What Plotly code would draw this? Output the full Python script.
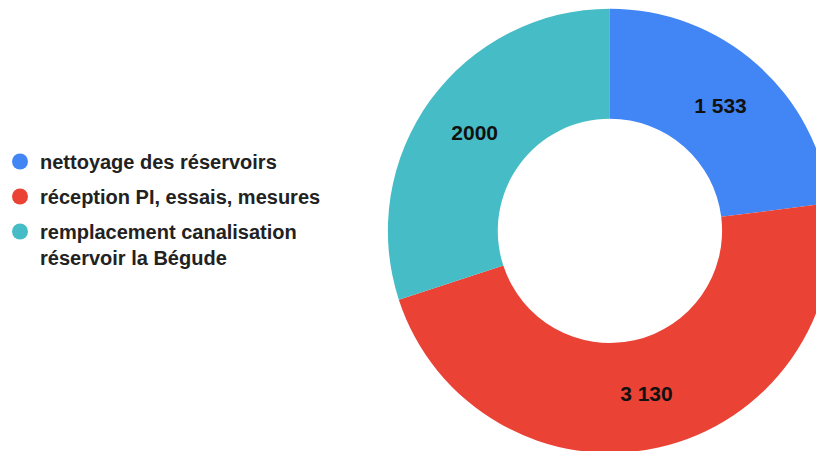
import plotly.graph_objects as go

categories = ["nettoyage des réservoirs",
              "réception PI, essais, mesures",
              "remplacement canalisation<br>réservoir la Bégude"]
values = [1533, 3130, 2000]
value_labels = ["1 533", "3 130", "2000"]
colors = ["#4285F4", "#EA4335", "#46BDC6"]

fig = go.Figure()
fig.add_trace(go.Pie(
    labels=categories, values=values, text=value_labels,
    textinfo="text", texttemplate="<b>%{text}</b>",
    textposition="inside", insidetextorientation="horizontal",
    textfont=dict(family="Liberation Sans, Arial, sans-serif", size=21, color="#111111"),
    marker=dict(colors=colors, line=dict(width=0)),
    hole=0.505, sort=False, direction="clockwise", rotation=0,
    domain=dict(x=[0.461, 1.0], y=[0.012, 1.0]),
    showlegend=False, hoverinfo="label+value",
))
for i, (cat, col) in enumerate(zip(categories, colors)):
    fig.add_trace(go.Scatter(
        x=[None], y=[None], mode="markers", name="<b>" + cat + "</b>",
        marker=dict(color=col, size=19, symbol="circle"),
        legendgroup="g%d" % i, showlegend=True,
    ))

fig.update_layout(
    width=824, height=451,
    margin=dict(l=0, r=0, t=0, b=0, autoexpand=False),
    paper_bgcolor="white", plot_bgcolor="white",
    xaxis=dict(visible=False), yaxis=dict(visible=False),
    legend=dict(
        x=-8 / 824, xanchor="left", y=1 - 134 / 451, yanchor="top",
        font=dict(family="Liberation Sans, Arial, sans-serif", size=20, color="#222222"),
        valign="top", tracegroupgap=6, itemsizing="trace",
        bgcolor="rgba(0,0,0,0)",
    ),
)
fig.write_html("out.html")
